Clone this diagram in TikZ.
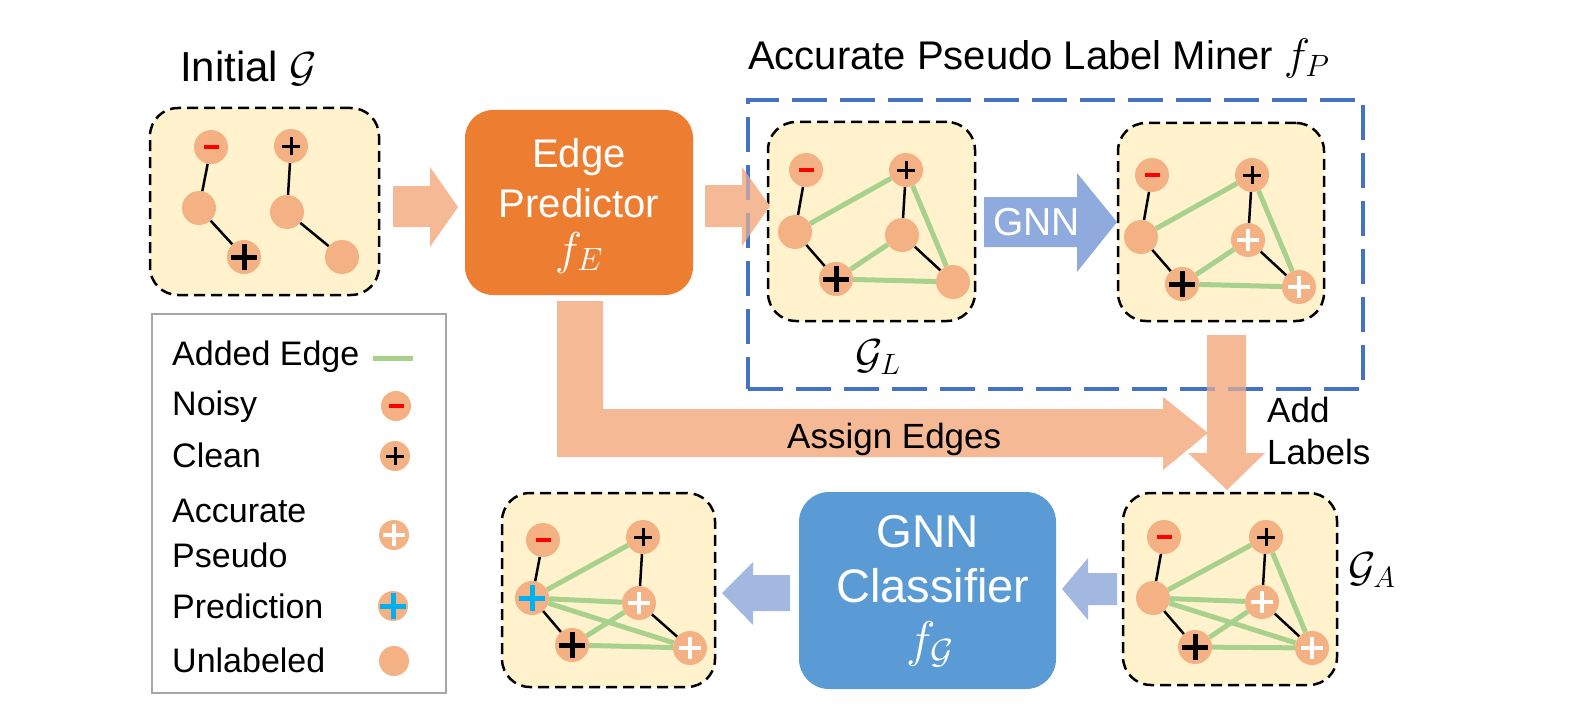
\RequirePackage{fix-cm}
\documentclass[tikz,border=0pt]{standalone}
\usepackage{fontspec}
\setmainfont{Liberation Sans}
\definecolor{boxy}{HTML}{FFF2CC}
\definecolor{nodeo}{HTML}{F4B183}
\definecolor{arro}{HTML}{F5BA95}
\definecolor{edgeo}{HTML}{ED7D31}
\definecolor{clsb}{HTML}{5B9BD5}
\definecolor{gnnb}{HTML}{8FAADC}
\definecolor{lgtb}{HTML}{A3B8E0}
\definecolor{dashb}{HTML}{4472C4}
\definecolor{addg}{HTML}{A9D18E}
\definecolor{predc}{HTML}{00B0F0}
\definecolor{noisyr}{HTML}{FF0000}
\definecolor{leggray}{HTML}{A6A6A6}
\newcommand{\myfs}[1]{\fontsize{#1}{#1}\selectfont}
\tikzset{
  gbox/.style={draw=black, line width=2.5pt, dash pattern=on 11pt off 6pt, fill=boxy, rounded corners=28pt, inner sep=0pt},
  gn/.style={circle, fill=nodeo, minimum size=34pt, inner sep=0pt},
  noisyn/.style={gn, path picture={\fill[noisyr] ([xshift=-7.5pt,yshift=-2pt]path picture bounding box.center) rectangle ++(15pt,4pt);}},
  plusn/.style n args={3}{gn, path picture={\draw[#1, line width=#2] ([xshift=-#3]path picture bounding box.center) -- ([xshift=#3]path picture bounding box.center) ([yshift=-#3]path picture bounding box.center) -- ([yshift=#3]path picture bounding box.center);}},
  cleann/.style={plusn={black}{3pt}{9pt}},
  bigclean/.style={plusn={black}{5pt}{13pt}},
  pseudon/.style={plusn={white}{4.5pt}{11pt}},
  predn/.style={plusn={predc}{5pt}{13pt}},
  bedge/.style={draw=black, line width=2.5pt},
  gedge/.style={draw=addg, line width=5pt},
  txt/.style={inner sep=0pt, anchor=base west},
  ctxt/.style={inner sep=0pt, anchor=base},
  bigarrow/.style={fill=arro},
}
\begin{document}
\begin{tikzpicture}[x=1pt,y=-1pt]
\useasboundingbox (0,0) rectangle (1573,706);
\fill[white] (0,0) rectangle (1573,706);

% ---- titles
\node[txt, font=\myfs{42}] (tinit) at (180,82) {Initial $\mathcal{G}$};
\node[txt, font=\myfs{40}] (tminer) at (748,70) {Accurate Pseudo Label Miner {\myfs{44}$f_P$}};

% ---- blue dashed miner box
\node[draw=dashb, line width=4pt, dash pattern=on 35pt off 13pt, minimum width=615pt, minimum height=289pt, inner sep=0pt] (miner) at (1055.5,244.5) {};

% ---- graph boxes
\node[gbox, minimum width=229pt, minimum height=187pt] (box1) at (264.5,201.5) {};
\node[gbox, minimum width=207pt, minimum height=199pt] (boxL) at (871.5,221.5) {};
\node[gbox, minimum width=206pt, minimum height=198pt] (box2) at (1221,222) {};
\node[gbox, minimum width=214pt, minimum height=192pt] (boxA) at (1230,589) {};
\node[gbox, minimum width=213pt, minimum height=194pt] (boxB) at (608.5,590) {};

% ---- process boxes
\node[fill=edgeo, rounded corners=28pt, minimum width=228pt, minimum height=185pt, inner sep=0pt] (ep) at (579,202.5) {};
\node[ctxt, white, font=\myfs{40}] (ep1) at (579,167) {Edge};
\node[ctxt, white, font=\myfs{40}] (ep2) at (579,217) {Predictor};
\node[ctxt, white, font=\myfs{46}] (ep3) at (579,264) {$f_E$};

\node[fill=clsb, rounded corners=30pt, minimum width=257pt, minimum height=197pt, inner sep=0pt] (cls) at (927.5,590.5) {};
\node[ctxt, white, font=\myfs{46}] (cl1) at (927.5,547) {GNN};
\node[ctxt, white, font=\myfs{47}] (cl2) at (933,602) {Classifier};
\node[ctxt, white, font=\myfs{50}] (cl3) at (930,656) {$f_{\mathcal{G}}$};

% ---- block arrows
\fill[bigarrow] (393,186) -- (430,186) -- (430,167) -- (458,207) -- (430,247) -- (430,227) -- (393,227) -- cycle;
\fill[bigarrow] (705,185) -- (742,185) -- (742,167) -- (770,206) -- (742,246) -- (742,227) -- (705,227) -- cycle;
\fill[gnnb] (984,197) -- (1077,197) -- (1077,173) -- (1117,222) -- (1077,272) -- (1077,247) -- (984,247) -- cycle;
\node[txt, white, font=\myfs{39}] (gnnt) at (993,235) {GNN};
\fill[bigarrow] (557,301) -- (603,301) -- (603,409) -- (1163,409) -- (1163,397) -- (1208,433) -- (1163,470) -- (1163,457) -- (557,457) -- cycle;
\fill[bigarrow] (1207,335) -- (1246,335) -- (1246,453) -- (1265,453) -- (1227,490) -- (1188,453) -- (1207,453) -- cycle;
\fill[lgtb] (790,575) -- (753,575) -- (753,562) -- (722,593) -- (753,625) -- (753,611) -- (790,611) -- cycle;
\fill[lgtb] (1117,573) -- (1088,573) -- (1088,558) -- (1062,589) -- (1088,620) -- (1088,605) -- (1117,605) -- cycle;
% blue dashes showing through the orange arrows
\node[draw=dashb, draw opacity=0.35, line width=4pt, dash pattern=on 35pt off 13pt, minimum width=615pt, minimum height=289pt, inner sep=0pt] (miner2) at (1055.5,244.5) {};

\node[txt, font=\myfs{35}] (assign) at (787,448) {Assign Edges};
\node[txt, font=\myfs{35}] (add1) at (1267,422) {Add};
\node[txt, font=\myfs{35}] (add2) at (1267,464) {Labels};

% ---- graph labels
\node[inner sep=0pt, font=\myfs{42}] (lblL) at (878,357) {$\mathcal{G}_L$};
\node[inner sep=0pt, font=\myfs{42}] (lblA) at (1372,570) {$\mathcal{G}_A$};

% ---- graph 1 (initial)
\node[noisyn] (a1) at (211,147) {};
\node[cleann] (a2) at (291,146) {};
\node[gn] (a3) at (199,208) {};
\node[gn] (a4) at (287,212) {};
\node[bigclean] (a5) at (244,257) {};
\node[gn] (a6) at (342,257) {};
\draw[bedge] (a1)--(a3) (a3)--(a5) (a2)--(a4) (a4)--(a6);

% ---- graph L
\node[noisyn] (l1) at (806,170) {};
\node[cleann] (l2) at (906,170) {};
\node[gn] (l3) at (795,232) {};
\node[gn] (l4) at (902,235) {};
\node[bigclean] (l5) at (836,279) {};
\node[gn] (l6) at (953,282) {};
\draw[bedge] (l1)--(l3) (l3)--(l5) (l2)--(l4) (l4)--(l6);
\draw[gedge] (l3)--(l2) (l2)--(l6) (l5)--(l4) (l5)--(l6);

% ---- graph after GNN
\node[noisyn] (m1) at (1152,175) {};
\node[cleann] (m2) at (1252,175) {};
\node[gn] (m3) at (1141,237) {};
\node[pseudon] (m4) at (1248,240) {};
\node[bigclean] (m5) at (1182,284) {};
\node[pseudon] (m6) at (1299,287) {};
\draw[bedge] (m1)--(m3) (m3)--(m5) (m2)--(m4) (m4)--(m6);
\draw[gedge] (m3)--(m2) (m2)--(m6) (m5)--(m4) (m5)--(m6);

% ---- graph A
\node[noisyn] (g1) at (1164,537) {};
\node[cleann] (g2) at (1266,537) {};
\node[gn] (g3) at (1153,598) {};
\node[pseudon] (g4) at (1262,602) {};
\node[bigclean] (g5) at (1195,647) {};
\node[pseudon] (g6) at (1312,648) {};
\draw[bedge] (g1)--(g3) (g3)--(g5) (g2)--(g4) (g4)--(g6);
\draw[gedge] (g3)--(g2) (g3)--(g4) (g3)--(g6) (g2)--(g6) (g5)--(g4) (g5)--(g6);

% ---- graph predicted
\node[noisyn] (p1) at (543,540) {};
\node[cleann] (p2) at (643,537) {};
\node[predn] (p3) at (532,598) {};
\node[pseudon] (p4) at (639,603) {};
\node[bigclean] (p5) at (572,645) {};
\node[pseudon] (p6) at (690,648) {};
\draw[bedge] (p1)--(p3) (p3)--(p5) (p2)--(p4) (p4)--(p6);
\draw[gedge] (p3)--(p2) (p3)--(p4) (p3)--(p6) (p5)--(p4) (p5)--(p6);

% ---- legend
\node[draw=leggray, line width=2.5pt, minimum width=294pt, minimum height=379pt, inner sep=0pt] (legend) at (299,503.5) {};
\node[txt, font=\myfs{34}] (lg1) at (172,365) {Added Edge};
\coordinate (ge1) at (373,358);
\coordinate (ge2) at (413,358);
\draw[gedge] (ge1) -- (ge2);
\node[txt, font=\myfs{34}] (lg2) at (172,415) {Noisy};
\node[noisyn, minimum size=30pt] (ln1) at (396,406) {};
\node[txt, font=\myfs{34}] (lg3) at (172,467) {Clean};
\node[cleann, minimum size=30pt] (ln2) at (395,456) {};
\node[txt, font=\myfs{34}] (lg4) at (172,522) {Accurate};
\node[txt, font=\myfs{34}] (lg5) at (172,567) {Pseudo};
\node[pseudon, minimum size=30pt] (ln3) at (394,535) {};
\node[txt, font=\myfs{34}] (lg6) at (172,618) {Prediction};
\node[predn, minimum size=30pt] (ln4) at (393,606) {};
\node[txt, font=\myfs{34}] (lg7) at (172,672) {Unlabeled};
\node[gn, minimum size=30pt] (ln5) at (394,661) {};
\end{tikzpicture}
\end{document}
